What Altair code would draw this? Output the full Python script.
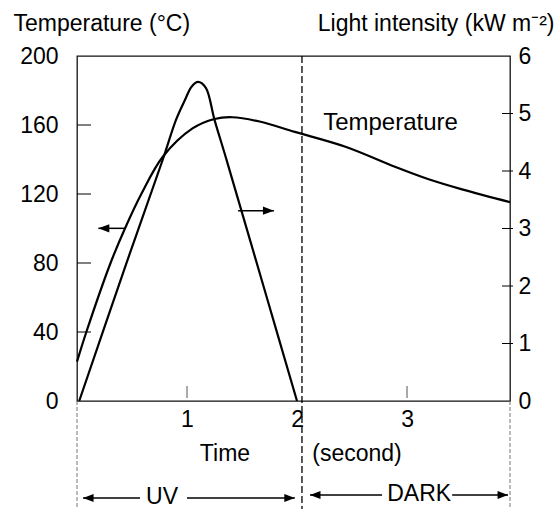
import altair as alt
import pandas as pd

FONT = "Liberation Sans"
FS = 23

# ---- data ----
temp_time = [0.0, 0.085, 0.305, 0.436, 0.588, 0.78, 1.05, 1.25, 1.41, 1.66, 1.98, 2.44, 2.89, 3.19, 3.5, 3.936]
temp_value = [22.8, 40, 80, 100, 120.4, 141.6, 158, 163.5, 164.5, 162, 156, 147.4, 135.8, 128.7, 122.7, 115.3]

light_time = [0.02, 0.448, 0.78, 0.9, 0.98, 1.043, 1.1, 1.17, 1.25, 1.36, 1.736, 2.0]
light_value = [0.0, 2.39, 4.2, 4.89, 5.23, 5.47, 5.55, 5.45, 4.89, 4.19, 1.73, 0.0]

temp_ticks = [40, 80, 120, 160]
light_ticks = [1, 2, 3, 4, 5]
time_ticks = [1, 3]
temp_labels = [0, 40, 80, 120, 160, 200]
light_labels = [0, 1, 2, 3, 4, 5, 6]
time_labels = [1, 2, 3]

uv_dark_boundary = 2.045

# ---- scales / axes ----
x_scale = alt.Scale(domain=[0, 3.936], nice=False, zero=False)
t_scale = alt.Scale(domain=[0, 200], nice=False, zero=False)
l_scale = alt.Scale(domain=[0, 6], nice=False, zero=False)

x_axis = alt.Axis(values=time_labels, title=None, ticks=False, tickSize=0, domain=False, grid=False,
                  labelFontSize=FS, labelFont=FONT, labelColor="black", labelPadding=7,
                  labelFlush=False, labelOverlap=False)
temp_axis = alt.Axis(orient="left", values=temp_labels, title="Temperature (°C)", titleAngle=0,
                     titleAlign="left", titleBaseline="alphabetic", titleX=-64, titleY=-26,
                     titleFont=FONT, titleFontSize=FS, titleFontWeight="normal", titleColor="black",
                     ticks=False, tickSize=0, domain=False, grid=False, labelFontSize=FS,
                     labelFont=FONT, labelColor="black", labelPadding=19, labelFlush=False,
                     labelOverlap=False)
light_axis = alt.Axis(orient="right", values=light_labels, title="Light intensity (kW m⁻²)",
                      titleAngle=0, titleAlign="right", titleBaseline="alphabetic", titleX=44,
                      titleY=-26, titleFont=FONT, titleFontSize=FS, titleFontWeight="normal",
                      titleColor="black", ticks=False, tickSize=0, domain=False, grid=False,
                      labelFontSize=FS, labelFont=FONT, labelColor="black", labelPadding=8,
                      labelFlush=False, labelOverlap=False)

X = alt.X("t:Q", scale=x_scale, axis=x_axis)
X2 = alt.X2("t2:Q")
YT = alt.Y("v:Q", scale=t_scale, axis=temp_axis)
YL = alt.Y("v:Q", scale=l_scale, axis=light_axis)

LEFT_HEAD = "M 0 0 L 2 -0.75 L 2 0.75 Z"
RIGHT_HEAD = "M 0 0 L -2 -0.75 L -2 0.75 Z"

# ---- temperature group ----
temp_df = pd.DataFrame({"t": temp_time, "v": temp_value})
temp_line = alt.Chart(temp_df).mark_line(color="black", strokeWidth=2.2, interpolate="catmull-rom").encode(x=X, y=YT)

lt_df = pd.DataFrame({"t": [0.0] * len(temp_ticks), "v": temp_ticks})
left_ticks = alt.Chart(lt_df).mark_rule(color="black", strokeWidth=1).encode(
    x=alt.value(0), x2=alt.value(14), y=YT)

bt_df = pd.DataFrame({"t": time_ticks})
bottom_ticks = alt.Chart(bt_df).mark_rule(color="#555", strokeWidth=1).encode(
    x=X, y=alt.value(330), y2=alt.value(342))

mid_df = pd.DataFrame({"t": [uv_dark_boundary]})
mid_dash = alt.Chart(mid_df).mark_rule(color="black", strokeWidth=1.3, strokeDash=[7, 3]).encode(
    x=X, y=alt.value(0), y2=alt.value(453))

side_df = pd.DataFrame({"t": [0.0, 3.936]})
side_dash = alt.Chart(side_df).mark_rule(color="#777", strokeWidth=1, strokeDash=[4, 2]).encode(
    x=X, y=alt.value(345), y2=alt.value(453))

# arrows inside plot (pointing to each curve's axis)
arr_df = pd.DataFrame({"t": [0.194, 1.464], "t2": [0.436, 1.79], "v": [100.1, 110.3]})
arr_lines = alt.Chart(arr_df).mark_rule(color="black", strokeWidth=1.5).encode(x=X, x2=X2, y=YT)
lh_df = pd.DataFrame({"t": [0.194], "v": [100.1]})
rh_df = pd.DataFrame({"t": [1.79], "v": [110.3]})
lhead = alt.Chart(lh_df).mark_point(shape=LEFT_HEAD, filled=True, size=121, color="black", opacity=1).encode(x=X, y=YT)
rhead = alt.Chart(rh_df).mark_point(shape=RIGHT_HEAD, filled=True, size=121, color="black", opacity=1).encode(x=X, y=YT)

lbl_df = pd.DataFrame({"t": [2.85], "v": [161.3], "txt": ["Temperature"]})
temp_label = alt.Chart(lbl_df).mark_text(font=FONT, fontSize=FS + 1, color="black", baseline="middle", align="center").encode(
    x=X, y=YT, text="txt:N")

# bottom annotations
bl_df = pd.DataFrame({"t": [1.345, 2.545], "txt": ["Time", "(second)"]})
bottom_labels = alt.Chart(bl_df).mark_text(font=FONT, fontSize=FS, color="black", baseline="middle", align="center").encode(
    x=X, y=alt.value(397.5), text="txt:N")

uv_df = pd.DataFrame({"t": [0.055, 1.0], "t2": [0.573, 1.98]})
uv_lines = alt.Chart(uv_df).mark_rule(color="black", strokeWidth=1.5).encode(x=X, x2=X2, y=alt.value(442))
uv_lh = alt.Chart(pd.DataFrame({"t": [0.055]})).mark_point(shape=LEFT_HEAD, filled=True, size=110, color="black", opacity=1).encode(x=X, y=alt.value(442))
uv_rh = alt.Chart(pd.DataFrame({"t": [1.98]})).mark_point(shape=RIGHT_HEAD, filled=True, size=110, color="black", opacity=1).encode(x=X, y=alt.value(442))
uv_txt = alt.Chart(pd.DataFrame({"t": [0.773], "txt": ["UV"]})).mark_text(font=FONT, fontSize=FS, color="black", baseline="middle").encode(
    x=X, y=alt.value(441), text="txt:N")

dk_df = pd.DataFrame({"t": [2.118, 3.41], "t2": [2.773, 3.918]})
dk_lines = alt.Chart(dk_df).mark_rule(color="black", strokeWidth=1.5).encode(x=X, x2=X2, y=alt.value(439))
dk_lh = alt.Chart(pd.DataFrame({"t": [2.118]})).mark_point(shape=LEFT_HEAD, filled=True, size=110, color="black", opacity=1).encode(x=X, y=alt.value(439))
dk_rh = alt.Chart(pd.DataFrame({"t": [3.918]})).mark_point(shape=RIGHT_HEAD, filled=True, size=110, color="black", opacity=1).encode(x=X, y=alt.value(439))
dk_txt = alt.Chart(pd.DataFrame({"t": [3.11], "txt": ["DARK"]})).mark_text(font=FONT, fontSize=FS, color="black", baseline="middle").encode(
    x=X, y=alt.value(438), text="txt:N")

temp_group = alt.layer(
    mid_dash, side_dash, bottom_ticks, left_ticks, temp_line, arr_lines, lhead, rhead, temp_label,
    bottom_labels, uv_lines, uv_lh, uv_rh, uv_txt, dk_lines, dk_lh, dk_rh, dk_txt,
)

# ---- light group ----
light_df = pd.DataFrame({"t": light_time, "v": light_value})
light_line = alt.Chart(light_df).mark_line(color="black", strokeWidth=2.2, interpolate="catmull-rom").encode(x=X, y=YL)
rt_df = pd.DataFrame({"t": [0.0] * len(light_ticks), "v": light_ticks})
right_ticks = alt.Chart(rt_df).mark_rule(color="black", strokeWidth=1).encode(
    x=alt.value(425), x2=alt.value(436), y=YL)

light_group = alt.layer(light_line, right_ticks)

chart = alt.layer(temp_group, light_group).resolve_scale(y="independent").properties(
    width=433, height=345,
    padding={"left": 77, "top": 56, "right": 46, "bottom": 108},
    autosize=alt.AutoSizeParams(type="none"),
    background="white",
).configure_view(stroke="#111", strokeWidth=1.3)

chart.save("out.html", embed_options={"renderer": "svg", "actions": False})
